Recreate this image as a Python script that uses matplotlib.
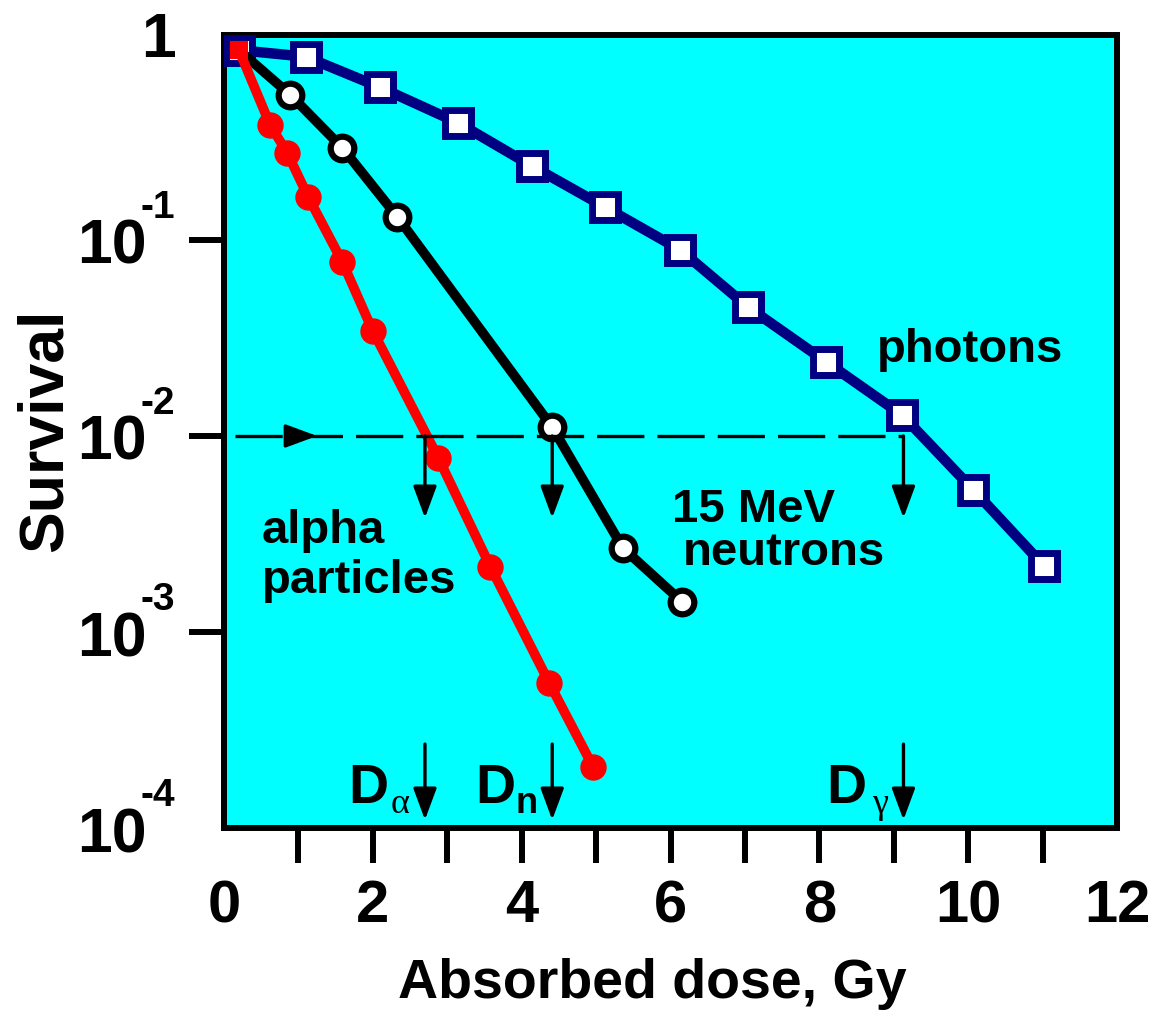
import numpy as np
from matplotlib import pyplot as plt

plt.rcParams['font.family'] = 'Liberation Sans'
plt.rcParams['font.weight'] = 'bold'
plt.rcParams['lines.scale_dashes'] = False

# survival curves (dose in Gy, surviving fraction)
dose_photon = [0.2, 1.1, 2.1, 3.15, 4.14, 5.12, 6.13, 7.04, 8.09, 9.11, 10.07, 11.02]
surv_photon = [0.93, 0.86, 0.60, 0.395, 0.238, 0.147, 0.089, 0.0455, 0.0239, 0.0128, 0.0053, 0.00217]

dose_neutron = [0.2, 0.89, 1.59, 2.33, 4.41, 5.36, 6.16]
surv_neutron = [0.93, 0.55, 0.295, 0.131, 0.0111, 0.00268, 0.00142]

dose_alpha = [0.2, 0.62, 0.85, 1.13, 1.59, 2.0, 2.88, 3.58, 4.37, 4.96]
surv_alpha = [0.93, 0.386, 0.278, 0.166, 0.0773, 0.0343, 0.00772, 0.00215, 0.00055, 0.000205]

# doses giving 1% survival
level = 0.01
d_alpha = 2.70
d_neutron = 4.41
d_photon = 9.13

xtick_vals = list(range(0, 13))
xtick_labels = ['0', '', '2', '', '4', '', '6', '', '8', '', '10', '', '12']
ytick_vals = [1e-1, 1e-2, 1e-3, 1e-4]
ytick_exps = ['-1', '-2', '-3', '-4']

navy = '#000080'
red = '#FF0000'

fig = plt.figure(figsize=(11.59, 10.10), dpi=100)
ax = fig.add_axes([0.1933, 0.1802, 0.7705, 0.7851])
ax.set_facecolor('#00FFFF')
ax.set_yscale('log')
ax.set_xlim(0, 12)
ax.set_ylim(1e-4, 1.11)

ax.plot(dose_photon, surv_photon, color=navy, lw=7.5, marker='s', ms=18.5,
        mew=5, mec=navy, mfc='white', zorder=3)
ax.plot(dose_neutron[1:], surv_neutron[1:], color='black', lw=7, marker='o',
        ms=17, mew=4.5, mec='black', mfc='white', zorder=4)
ax.plot(dose_neutron[:2], surv_neutron[:2], color='black', lw=7, zorder=3.5)
ax.plot(dose_alpha, surv_alpha, color=red, lw=7, marker='o', ms=18,
        mec=red, mfc=red, markevery=list(range(1, len(dose_alpha))), zorder=5)
ax.plot(dose_alpha[:1], surv_alpha[:1], color=red, marker='s', ms=13.5, mew=0,
        ls='none', zorder=6)

# 1% survival line and the arrows dropping to each dose
ax.plot([0.15, d_photon], [level, level], color='black', lw=2.4,
        dashes=(34, 9.4), zorder=7)
arrow_kw = dict(arrowstyle='-|>,head_length=1.0,head_width=0.37',
                mutation_scale=19.4, color='black', lw=2.4,
                shrinkA=0, shrinkB=0)
ax.annotate('', xy=(1.25, level), xytext=(0.9, level), arrowprops=arrow_kw,
            zorder=8)
for d in (d_alpha, d_neutron, d_photon):
    ax.annotate('', xy=(d, 0.00382), xytext=(d, level), arrowprops=arrow_kw,
                zorder=8)
    ax.annotate('', xy=(d, 1.10e-4), xytext=(d, 2.68e-4), arrowprops=arrow_kw,
                zorder=8)

# D labels next to the bottom arrows
for d, sub, fam, wt in [(d_alpha, '\u03b1', 'Liberation Serif', 'normal'),
                        (d_neutron, 'n', 'Liberation Sans', 'bold'),
                        (d_photon, '\u03b3', 'Liberation Serif', 'normal')]:
    ax.annotate('D', xy=(d, 1.34e-4), xytext=(-26.6, 0),
                textcoords='offset points', ha='right', va='baseline',
                fontsize=40, fontweight='bold')
    ax.annotate(sub, xy=(d, 1.34e-4), xytext=(-10.8, -7),
                textcoords='offset points', ha='right', va='baseline',
                fontsize=26, family=fam, fontweight=wt)

# curve names
ax.text(8.78, 0.0239, 'photons', fontsize=34, ha='left', va='baseline')
ax.text(6.02, 0.00364, '15 MeV', fontsize=34, ha='left', va='baseline')
ax.text(6.16, 0.0022, 'neutrons', fontsize=34, ha='left', va='baseline')
ax.text(0.51, 0.00284, 'alpha', fontsize=34, ha='left', va='baseline')
ax.text(0.51, 0.00158, 'particles', fontsize=34, ha='left', va='baseline')

# axes frame and ticks
for s in ax.spines.values():
    s.set_linewidth(4.3)
ax.set_xticks(xtick_vals)
ax.set_xticklabels(xtick_labels)
ax.tick_params(axis='x', direction='out', length=25, width=4.3, pad=12,
               labelsize=43)
ticks = ax.xaxis.get_major_ticks()
ticks[0].tick1line.set_visible(False)
ticks[-1].tick1line.set_visible(False)

ax.set_yticks(ytick_vals[:3])
ax.set_yticklabels([])
ax.yaxis.set_minor_locator(plt.NullLocator())
ax.tick_params(axis='y', direction='out', length=25, width=4.3)

ytrans = ax.get_yaxis_transform()
for yv, ex in zip(ytick_vals, ytick_exps):
    ax.annotate('10', xy=(0, yv), xycoords=ytrans, xytext=(-55.4, -17.3),
                textcoords='offset points', ha='right', va='baseline',
                fontsize=45, annotation_clip=False)
    ax.annotate(ex, xy=(0, yv), xycoords=ytrans, xytext=(-60.5, 15.8),
                textcoords='offset points', ha='left', va='baseline',
                fontsize=28, annotation_clip=False)
ax.annotate('1', xy=(0, 1), xycoords='axes fraction', xytext=(-35, -15.8),
            textcoords='offset points', ha='right', va='baseline',
            fontsize=45, annotation_clip=False)

fig.text(652 / 1159, 1 - 998 / 1010, 'Absorbed dose, Gy', fontsize=40,
         ha='center', va='baseline')
fig.text(45 / 1159, 1 - 430 / 1010, 'Survival', fontsize=45, rotation=90,
         ha='center', va='center')

fig.savefig('out.png', dpi=100)
